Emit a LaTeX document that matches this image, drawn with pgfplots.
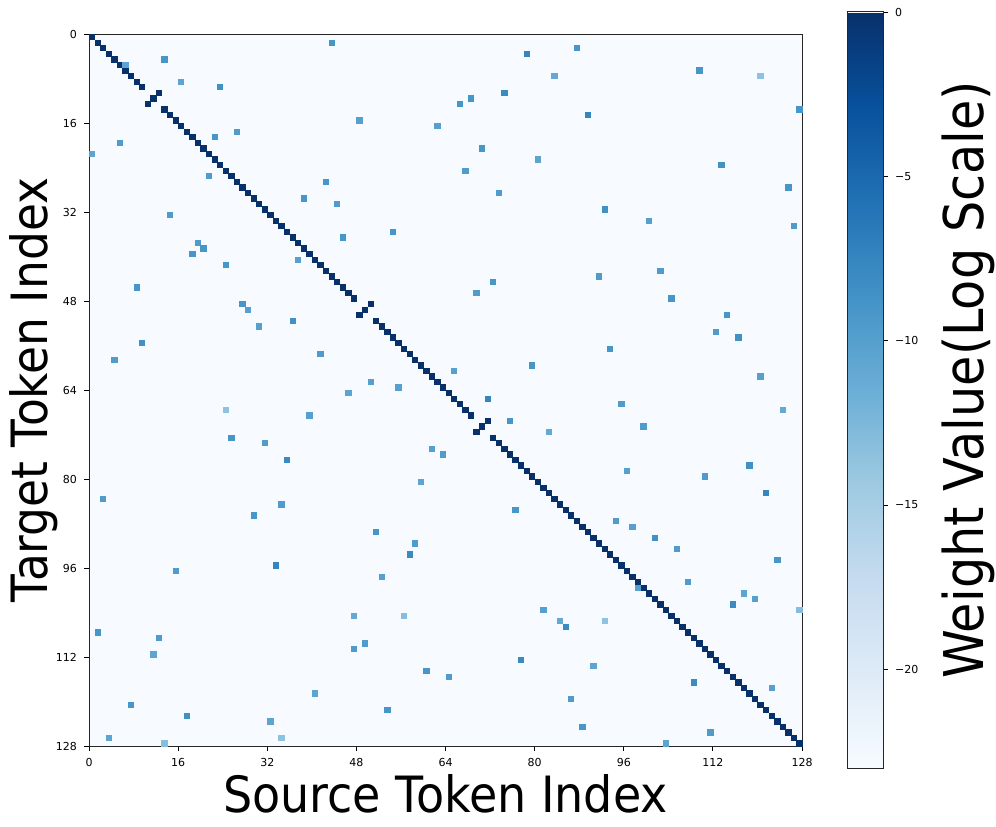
\documentclass[border=0pt]{standalone}
\usepackage{pgfplots}
\pgfplotsset{compat=1.18}
\usepackage{graphicx}
\usepackage{fontspec}
\setmainfont{DejaVu Sans}
\usetikzlibrary{calc}
\definecolor{bgcol}{RGB}{247,251,255}
\pgfplotsset{
  colormap={blues}{rgb255=(247,251,255) rgb255=(222,235,247) rgb255=(198,219,239) rgb255=(158,202,225) rgb255=(107,174,214) rgb255=(66,146,198) rgb255=(33,113,181) rgb255=(8,81,156) rgb255=(8,48,107)}
}
\begin{document}
\begin{tikzpicture}
\begin{axis}[
  name=main,
  scale only axis,
  width=356.5pt, height=356pt,
  xmin=0, xmax=128, ymin=0, ymax=128,
  y dir=reverse,
  xtick={0,16,...,128}, ytick={0,16,...,128},
  xtick pos=left, ytick pos=left,
  tick align=outside,
  major tick length=2.5pt,
  every tick/.style={black, line width=0.4pt},
  tick label style={font=\fontsize{5.5}{6.5}\selectfont},
  /pgf/number format/assume math mode=true,
  axis line style={line width=0.5pt, black!85},
  axis background/.style={fill=bgcol},
  axis on top,
  colormap name=blues,
  point meta min=-23, point meta max=0,
  colorbar,
  colorbar/width=18pt,
  colorbar style={
    at={(parent axis.east)}, anchor=west, xshift=14pt,
    scale only axis, width=18pt, height=378pt,
    ytick={-20,-15,-10,-5,0},
    yticklabels={−20,−15,−10,−5,0},
    ytick pos=right, yticklabel pos=right,
    tick align=outside, major tick length=2.5pt,
    yticklabel style={font=\fontsize{5.5}{6.5}\selectfont},
    axis line style={line width=0.5pt, black!85},
  },
]
\addplot[scatter, only marks, mark=square*, mark size=1.33pt,
  point meta=explicit,
  scatter/use mapped color={draw=mapped color, fill=mapped color, line width=0.1pt}]
coordinates {
% diagonal
(0.5,0.5)[0] (1.5,1.5)[0] (2.5,2.5)[0] (3.5,3.5)[0] (4.5,4.5)[0] (5.5,5.5)[0] (6.5,6.5)[0] (7.5,7.5)[0]
(8.5,8.5)[0] (9.5,9.5)[0] (12.5,10.5)[0] (11.5,11.5)[0] (10.5,12.5)[0] (13.5,13.5)[0] (14.5,14.5)[0] (15.5,15.5)[0]
(16.5,16.5)[0] (17.5,17.5)[0] (18.5,18.5)[0] (19.5,19.5)[0] (20.5,20.5)[0] (21.5,21.5)[0] (22.5,22.5)[0] (23.5,23.5)[0]
(24.5,24.5)[0] (25.5,25.5)[0] (26.5,26.5)[0] (27.5,27.5)[0] (28.5,28.5)[0] (29.5,29.5)[0] (30.5,30.5)[0] (31.5,31.5)[0]
(32.5,32.5)[0] (33.5,33.5)[0] (34.5,34.5)[0] (35.5,35.5)[0] (36.5,36.5)[0] (37.5,37.5)[0] (38.5,38.5)[0] (39.5,39.5)[0]
(40.5,40.5)[0] (41.5,41.5)[0] (42.5,42.5)[0] (43.5,43.5)[0] (44.5,44.5)[0] (45.5,45.5)[0] (46.5,46.5)[0] (47.5,47.5)[0]
(50.5,48.5)[0] (49.5,49.5)[0] (48.5,50.5)[0] (51.5,51.5)[0] (52.5,52.5)[0] (53.5,53.5)[0] (54.5,54.5)[0] (55.5,55.5)[0]
(56.5,56.5)[0] (57.5,57.5)[0] (58.5,58.5)[0] (59.5,59.5)[0] (60.5,60.5)[0] (61.5,61.5)[0] (62.5,62.5)[0] (63.5,63.5)[0]
(64.5,64.5)[0] (65.5,65.5)[0] (66.5,66.5)[0] (67.5,67.5)[0] (68.5,68.5)[0] (71.5,69.5)[0] (70.5,70.5)[0] (69.5,71.5)[0]
(72.5,72.5)[0] (73.5,73.5)[0] (74.5,74.5)[0] (75.5,75.5)[0] (76.5,76.5)[0] (77.5,77.5)[0] (78.5,78.5)[0] (79.5,79.5)[0]
(80.5,80.5)[0] (81.5,81.5)[0] (82.5,82.5)[0] (83.5,83.5)[0] (84.5,84.5)[0] (85.5,85.5)[0] (86.5,86.5)[0] (87.5,87.5)[0]
(88.5,88.5)[0] (89.5,89.5)[0] (90.5,90.5)[0] (91.5,91.5)[0] (92.5,92.5)[0] (93.5,93.5)[0] (94.5,94.5)[0] (95.5,95.5)[0]
(96.5,96.5)[0] (97.5,97.5)[0] (98.5,98.5)[0] (99.5,99.5)[0] (100.5,100.5)[0] (101.5,101.5)[0] (102.5,102.5)[0] (103.5,103.5)[0]
(104.5,104.5)[0] (105.5,105.5)[0] (106.5,106.5)[0] (107.5,107.5)[0] (108.5,108.5)[0] (109.5,109.5)[0] (110.5,110.5)[0] (111.5,111.5)[0]
(112.5,112.5)[0] (113.5,113.5)[0] (114.5,114.5)[0] (115.5,115.5)[0] (116.5,116.5)[0] (117.5,117.5)[0] (118.5,118.5)[0] (119.5,119.5)[0]
(120.5,120.5)[0] (121.5,121.5)[0] (122.5,122.5)[0] (123.5,123.5)[0] (124.5,124.5)[0] (125.5,125.5)[0] (126.5,126.5)[0] (127.5,127.5)[0]
% off-diagonal (col+0.5, row+0.5)
(43.5,1.5)[-9] (87.5,2.5)[-9] (78.5,3.5)[-7.5] (13.5,4.5)[-9] (6.5,5.5)[-10.5] (109.5,6.5)[-9]
(83.5,7.5)[-11] (120.5,7.5)[-13.5] (16.5,8.5)[-10.5] (23.5,9.5)[-8.5] (74.5,10.5)[-8] (68.5,11.5)[-9]
(66.5,12.5)[-9] (127.5,13.5)[-9] (89.5,14.5)[-7.5] (48.5,15.5)[-10] (62.5,16.5)[-10] (26.5,17.5)[-9.5]
(22.5,18.5)[-9] (5.5,19.5)[-9.5] (70.5,20.5)[-9] (0.5,21.5)[-10.5] (80.5,22.5)[-10.5] (113.5,23.5)[-8.5]
(67.5,24.5)[-9.5] (21.5,25.5)[-9.5] (42.5,26.5)[-9] (125.5,27.5)[-9] (73.5,28.5)[-9.5] (38.5,29.5)[-9]
(44.5,30.5)[-9.5] (92.5,31.5)[-8.5] (14.5,32.5)[-9.5] (100.5,33.5)[-10] (126.5,34.5)[-9.5] (54.5,35.5)[-9]
(45.5,36.5)[-9] (19.5,37.5)[-9.5] (20.5,38.5)[-9] (18.5,39.5)[-9] (37.5,40.5)[-10] (24.5,41.5)[-9]
(102.5,42.5)[-9.5] (91.5,43.5)[-9.5] (72.5,44.5)[-9] (8.5,45.5)[-9] (69.5,46.5)[-9.5] (104.5,47.5)[-9]
(27.5,48.5)[-9] (28.5,49.5)[-10] (114.5,50.5)[-9] (36.5,51.5)[-8.5] (30.5,52.5)[-10] (112.5,53.5)[-9.5]
(116.5,54.5)[-8.5] (9.5,55.5)[-8.5] (93.5,56.5)[-9] (41.5,57.5)[-9.5] (4.5,58.5)[-9.5] (79.5,59.5)[-9]
(65.5,60.5)[-10] (120.5,61.5)[-10] (50.5,62.5)[-10] (55.5,63.5)[-10] (46.5,64.5)[-10.5] (71.5,65.5)[-7.5]
(95.5,66.5)[-9.5] (24.5,67.5)[-13.5] (124.5,67.5)[-11] (39.5,68.5)[-10] (75.5,69.5)[-9] (99.5,70.5)[-9.5]
(82.5,71.5)[-11] (25.5,72.5)[-9] (31.5,73.5)[-9.5] (61.5,74.5)[-10] (63.5,75.5)[-9.5] (35.5,76.5)[-8]
(118.5,77.5)[-8.5] (96.5,78.5)[-10] (110.5,79.5)[-9.5] (59.5,80.5)[-10.5] (121.5,82.5)[-7.5] (2.5,83.5)[-9.5]
(34.5,84.5)[-9.5] (76.5,85.5)[-9] (29.5,86.5)[-9] (94.5,87.5)[-9.5] (97.5,88.5)[-10] (51.5,89.5)[-9]
(101.5,90.5)[-8.5] (58.5,91.5)[-9.5] (105.5,92.5)[-9.5] (57.5,93.5)[-8] (123.5,94.5)[-9] (33.5,95.5)[-7.5]
(15.5,96.5)[-9.5] (52.5,97.5)[-10] (107.5,98.5)[-9.5] (98.5,99.5)[-10] (117.5,100.5)[-10.5] (119.5,101.5)[-10]
(115.5,102.5)[-8] (81.5,103.5)[-10] (127.5,103.5)[-13] (47.5,104.5)[-11] (56.5,104.5)[-13] (84.5,105.5)[-11]
(92.5,105.5)[-13.5] (85.5,106.5)[-8] (1.5,107.5)[-9] (12.5,108.5)[-9.5] (49.5,109.5)[-9.5] (47.5,110.5)[-9.5]
(11.5,111.5)[-10.5] (77.5,112.5)[-8] (90.5,113.5)[-10.5] (60.5,114.5)[-9] (64.5,115.5)[-9.5] (108.5,116.5)[-8]
(122.5,117.5)[-10] (40.5,118.5)[-10.5] (86.5,119.5)[-9.5] (7.5,120.5)[-9] (53.5,121.5)[-9] (17.5,122.5)[-8.5]
(32.5,123.5)[-10.5] (88.5,124.5)[-9] (111.5,125.5)[-9.5] (3.5,126.5)[-10.5] (34.5,126.5)[-13.5] (13.5,127.5)[-13]
(103.5,127.5)[-10.5]
};
\end{axis}
\node[rotate=90, anchor=base] at ($(main.west)+(-20.5pt,0)$) {\fontsize{25}{30}\selectfont\scalebox{0.91}[1]{Target Token Index}};
\node[anchor=base] at ($(main.south)+(0,-33pt)$) {\fontsize{25}{30}\selectfont\scalebox{0.92}[1]{Source Token Index}};
\node[rotate=90, anchor=base] at ($(main.west)+(447pt,5pt)$) {\fontsize{27.4}{32}\selectfont\scalebox{0.9}[1]{Weight Value(Log Scale)}};
\pgfresetboundingbox
\path ($(main.south west)+(-44.5pt,-40pt)$) rectangle ++(498pt,413pt);
\end{tikzpicture}
\end{document}
